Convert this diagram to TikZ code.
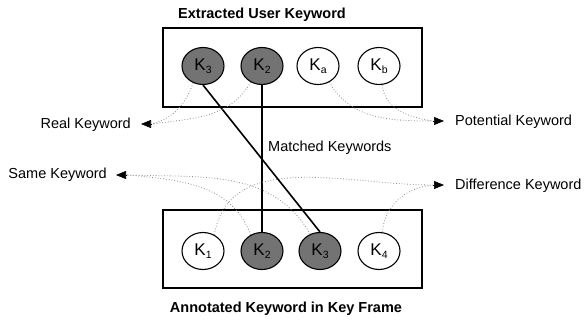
\documentclass[tikz,border=0pt]{standalone}
\usepackage{fontspec}
\setmainfont{Liberation Sans}
\usetikzlibrary{shapes.geometric,arrows.meta}
\tikzset{
  kw/.style={ellipse,draw=black,line width=1.1pt,minimum width=42pt,minimum height=37pt,inner sep=0pt,font=\fontsize{17}{19}\selectfont},
  kwon/.style={kw,fill=black!55},
  frame/.style={draw=black,line width=1.1pt},
  title/.style={font=\fontsize{14.5}{17}\selectfont\bfseries},
  lbl/.style={font=\fontsize{14.5}{17}\selectfont,inner sep=0pt},
  match/.style={line width=1.6pt,draw=black},
  dot/.style={draw=black!45,dotted,line width=0.8pt},
  head/.style={draw=black,fill=black,solid,line width=0.6pt,-{Triangle[length=10pt,width=8pt]}}
}
\newcommand{\ksub}[1]{\raisebox{-0.4ex}{\fontsize{10.5}{11}\selectfont #1}}
\begin{document}
\begin{tikzpicture}[x=1pt,y=-1pt]
\useasboundingbox (0,0) rectangle (584,321);
% boxes
\node[frame,minimum width=259pt,minimum height=79pt,inner sep=0pt] (topbox) at (292.5,67.5) {};
\node[frame,minimum width=259pt,minimum height=78pt,inner sep=0pt] (botbox) at (292.5,249) {};
\node[title] (ttop) at (262,15) {Extracted User Keyword};
\node[title] (tbot) at (286,309) {Annotated Keyword in Key Frame};
% top keywords
\node[kwon] (t3) at (203,66) {K\ksub{3}};
\node[kwon] (t2) at (262,66) {K\ksub{2}};
\node[kw] (ta) at (318,66) {K\ksub{a}};
\node[kw] (tb) at (379,66) {K\ksub{b}};
% bottom keywords
\node[kw] (b1) at (203,251) {K\ksub{1}};
\node[kwon] (b2) at (262,251) {K\ksub{2}};
\node[kwon] (b3) at (320,251) {K\ksub{3}};
\node[kw] (b4) at (379,251) {K\ksub{4}};
% labels
\node[lbl,anchor=east] (real) at (131,125) {Real Keyword};
\node[lbl,anchor=east] (same) at (107,175) {Same Keyword};
\node[lbl,anchor=west] (pot) at (455,122) {Potential Keyword};
\node[lbl,anchor=west] (diff) at (455,186) {Difference Keyword};
\node[lbl,anchor=west] (mk) at (268,148) {Matched Keywords};
\coordinate (realtip) at (141,124);
\coordinate (realbase) at (152,124);
\coordinate (sametip) at (116,175);
\coordinate (samebase) at (127,175);
\coordinate (pottip) at (444,121);
\coordinate (potbase) at (433,121);
\coordinate (difftip) at (444,185);
\coordinate (diffbase) at (433,185);
% matched lines
\draw[match] (t3.south) -- (b3.north);
\draw[match] (t2.south) -- (b2.north);
% dotted curves
\draw[dot] (t3.-120) to[out=-110,in=15] (realbase);
\draw[dot] (t2.-125) to[out=-120,in=8] (realbase);
\draw[dot] (ta.-55) to[out=-60,in=180] (potbase);
\draw[dot] (tb.-80) to[out=-85,in=172] (potbase);
\draw[dot] (b2.125) to[out=110,in=-5] (samebase);
\draw[dot] (b3.120) to[out=120,in=-2] (samebase);
\draw[dot] (b1.55) to[out=80,in=180] (diffbase);
\draw[dot] (b4.80) to[out=85,in=185] (diffbase);
% arrow heads
\draw[head] (realbase) -- (realtip);
\draw[head] (samebase) -- (sametip);
\draw[head] (potbase) -- (pottip);
\draw[head] (diffbase) -- (difftip);
\end{tikzpicture}
\end{document}
